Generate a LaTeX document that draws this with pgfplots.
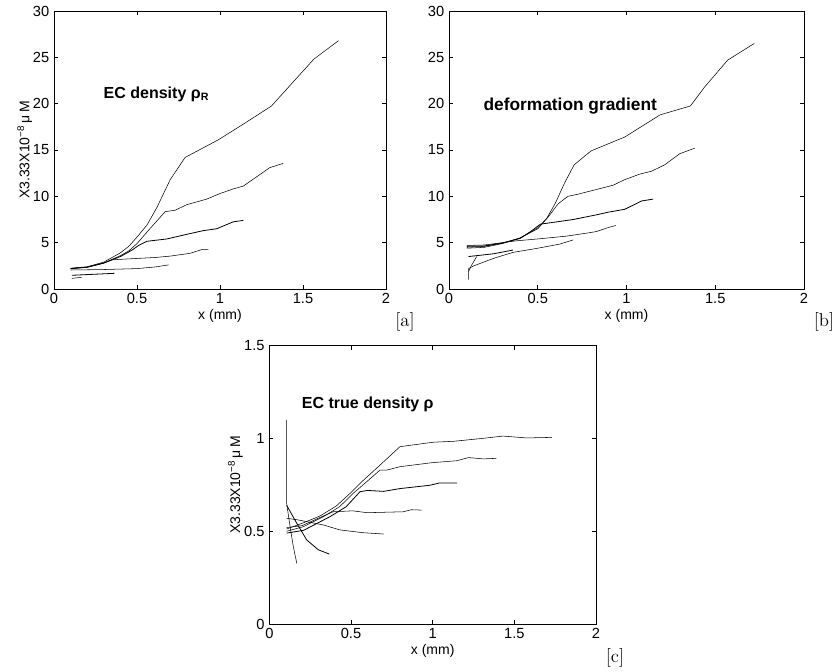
\documentclass[border=0pt]{standalone}
\usepackage{fontspec}
\setsansfont{Liberation Sans}
\usepackage{pgfplots}
\pgfplotsset{compat=1.18}
\tikzset{ann/.style={font=\sffamily\bfseries\fontsize{12}{14}\selectfont, anchor=base west, inner sep=0pt}}
\pgfplotsset{
  mystyle/.style={
    scale only axis,
    xmin=0, xmax=2,
    xtick={0,0.5,1,1.5,2},
    xticklabels={0,0.5,1,1.5,2},
    tick align=inside,
    major tick length=3pt,
    every tick/.style={black, line width=0.5pt},
    axis line style={line width=0.7pt},
    /pgf/number format/assume math mode=true,
    tick label style={font=\sffamily\fontsize{11}{13}\selectfont},
    label style={font=\sffamily\fontsize{10.5}{12}\selectfont},
    xlabel={x (mm)},
    xlabel style={at={(axis description cs:0.5,0)}, anchor=center, yshift=-20pt},
    cycle list={{black, no markers, line width=0.6pt}},
    clip=false,
  },
}
\begin{document}
\begin{tikzpicture}
\useasboundingbox (0,0) rectangle (627.75pt,503.25pt);
% ---------------- panel a ----------------
\begin{axis}[mystyle,
  at={(40.5pt,286.5pt)}, anchor=south west,
  width=249pt, height=208.5pt,
  ymin=0, ymax=30, ytick={0,5,10,15,20,25,30},
  yticklabels={0,5,10,15,20,25,30},
  ylabel={X3.33X10\textsuperscript{−8}\,μ\,M},
  ylabel style={at={(axis description cs:0,0.5)}, anchor=center, yshift=22pt},
]
\addplot coordinates {(0.10,2.25)(0.2,2.4)(0.3,2.9)(0.4,3.9)(0.45,4.6)(0.5,5.6)(0.56,6.9)(0.62,8.8)(0.7,11.8)(0.79,14.2)(0.99,16.1)(1.15,17.9)(1.31,19.75)(1.565,24.8)(1.714,26.8)};
\addplot coordinates {(0.1,2.2)(0.2,2.35)(0.3,2.8)(0.4,3.6)(0.45,4.1)(0.5,4.9)(0.58,6.55)(0.67,8.35)(0.73,8.5)(0.8,9.1)(0.92,9.7)(1.0,10.3)(1.08,10.8)(1.14,11.1)(1.3,13.1)(1.38,13.55)};
\addplot coordinates {(0.1,2.2)(0.2,2.35)(0.3,2.8)(0.4,3.5)(0.47,4.2)(0.51,4.7)(0.56,5.15)(0.68,5.4)(0.8,5.9)(0.9,6.3)(0.98,6.5)(1.08,7.25)(1.14,7.4)};
\addplot coordinates {(0.1,2.2)(0.2,2.35)(0.3,2.8)(0.35,3.15)(0.45,3.25)(0.61,3.4)(0.7,3.55)(0.82,3.85)(0.89,4.25)(0.93,4.25)};
\addplot coordinates {(0.1,2.05)(0.3,2.1)(0.5,2.2)(0.61,2.38)(0.69,2.6)};
\addplot coordinates {(0.107,1.48)(0.364,1.69)};
\addplot coordinates {(0.107,1.15)(0.167,1.26)};
\node[ann] at (axis cs:0.298,20.58) {EC density ρ\textsubscript{R}};
\end{axis}
% ---------------- panel b ----------------
\begin{axis}[mystyle,
  at={(336.75pt,286.5pt)}, anchor=south west,
  width=266.25pt, height=208.5pt,
  ymin=0, ymax=30, ytick={0,5,10,15,20,25,30},
  yticklabels={0,5,10,15,20,25,30},
]
\addplot coordinates {(0.1,4.4)(0.2,4.5)(0.3,4.9)(0.4,5.5)(0.5,6.6)(0.55,7.6)(0.6,9.3)(0.65,11.4)(0.705,13.4)(0.8,14.9)(0.99,16.4)(1.19,18.8)(1.36,19.75)(1.44,21.8)(1.57,24.7)(1.72,26.5)};
\addplot coordinates {(0.1,4.5)(0.2,4.6)(0.3,4.95)(0.4,5.5)(0.5,6.5)(0.56,7.8)(0.615,9.2)(0.67,10.0)(0.72,10.2)(0.925,11.2)(0.99,11.8)(1.075,12.4)(1.14,12.7)(1.215,13.4)(1.30,14.6)(1.385,15.2)};
\addplot coordinates {(0.1,4.6)(0.2,4.65)(0.3,4.95)(0.4,5.45)(0.46,6.2)(0.515,7.0)(0.59,7.2)(0.70,7.5)(0.83,8.0)(0.9,8.3)(0.99,8.6)(1.085,9.5)(1.15,9.7)};
\addplot coordinates {(0.1,4.7)(0.2,4.75)(0.3,5.0)(0.38,5.2)(0.5,5.4)(0.66,5.7)(0.8,6.1)(0.83,6.2)(0.9,6.65)(0.94,6.85)};
\addplot coordinates {(0.11,1.0)(0.11,2.2)(0.14,2.5)(0.25,3.3)(0.36,3.95)(0.5,4.4)(0.625,4.85)(0.7,5.3)};
\addplot coordinates {(0.11,3.5)(0.25,3.8)(0.36,4.2)};
\addplot coordinates {(0.11,1.9)(0.128,2.6)(0.156,3.5)};
\node[ann, font=\sffamily\bfseries\fontsize{13}{15}\selectfont] at (axis cs:0.193,19.3) {deformation gradient};
\end{axis}
% ---------------- panel c ----------------
\begin{axis}[mystyle,
  at={(202pt,35.25pt)}, anchor=south west,
  width=245pt, height=208.7pt,
  ymin=0, ymax=1.5, ytick={0,0.5,1,1.5},
  yticklabels={0,0.5,1,1.5},
  ylabel={X3.33X10\textsuperscript{−8}\,μ\,M},
  ylabel style={at={(axis description cs:0,0.5)}, anchor=center, yshift=25.5pt},
]
\addplot coordinates {(0.106,0.512)(0.21,0.546)(0.31,0.582)(0.41,0.636)(0.494,0.704)(0.566,0.767)(0.678,0.857)(0.80,0.956)(1.005,0.98)(1.13,0.985)(1.30,1.0)(1.43,1.013)(1.575,1.003)(1.73,1.006)};
\addplot coordinates {(0.106,0.50)(0.21,0.525)(0.33,0.578)(0.43,0.632)(0.514,0.705)(0.60,0.77)(0.678,0.83)(0.72,0.83)(0.8,0.848)(1.0,0.87)(1.147,0.88)(1.22,0.897)(1.31,0.89)(1.39,0.893)};
\addplot coordinates {(0.106,0.49)(0.21,0.505)(0.37,0.578)(0.47,0.632)(0.555,0.713)(0.6,0.72)(0.70,0.715)(0.8,0.73)(0.984,0.748)(1.04,0.76)(1.15,0.76)};
\addplot coordinates {(0.106,0.52)(0.2,0.53)(0.3,0.57)(0.39,0.605)(0.51,0.61)(0.6,0.60)(0.82,0.605)(0.87,0.616)(0.933,0.614)};
\addplot coordinates {(0.106,0.57)(0.17,0.562)(0.33,0.534)(0.433,0.507)(0.576,0.492)(0.70,0.485)};
\addplot coordinates {(0.106,0.64)(0.168,0.543)(0.229,0.453)(0.30,0.40)(0.367,0.377)};
\addplot coordinates {(0.106,1.10)(0.106,0.65)(0.127,0.525)(0.147,0.417)(0.168,0.327)};
\node[ann] at (axis cs:0.198,1.159) {EC true density ρ};
\end{axis}
% bracket labels
\node[font=\fontsize{14}{16}\selectfont] at (303.75pt,261.75pt) {[a]};
\node[font=\fontsize{14}{16}\selectfont] at (618pt,261.75pt) {[b]};
\node[font=\fontsize{14}{16}\selectfont] at (461.25pt,9.75pt) {[c]};
\end{tikzpicture}
\end{document}
